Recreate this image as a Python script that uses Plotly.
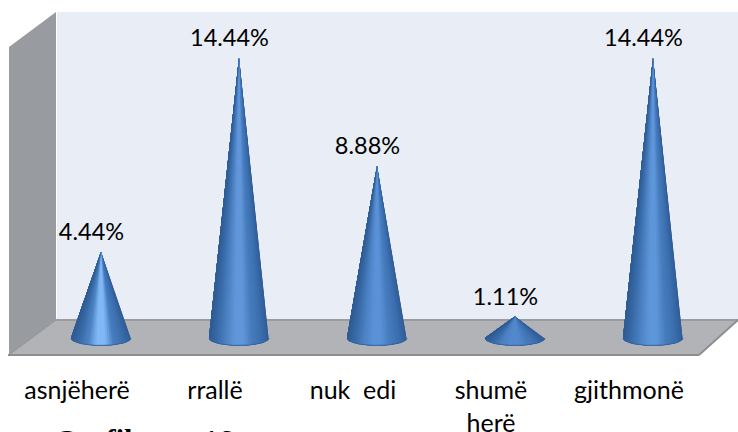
import plotly.graph_objects as go
import numpy as np

categories = ["asnjëherë", "rrallë", "nuk  edi", "shumë<br>herë", "gjithmonë"]
values = [4.44, 14.44, 8.88, 1.11, 14.44]
labels = ["4.44%", "14.44%", "8.88%", "1.11%", "14.44%"]
caption_word = "<b>Grafiku</b>"
caption_number = "<b>16</b>"

W, H = 738, 432
PLOT_BOTTOM = 356
X0, DX = 77.0, 138.0      # pixel of category 0, pixels per category
Y0, DY = 338.0, 19.4      # pixel of value 0, pixels per value
DEPTH = 24.0              # px, cones sit this far right of the tick
R, RY = 30.0, 7.5         # cone base half-width / half-height
LABEL_GAP = 6.0           # px, extra lift of data labels above the tips

def x_unit(px): return (px - X0) / DX
def y_unit(py): return (Y0 - py) / DY
def pts(items): return "M " + " L ".join(f"{x/W:.5f},{1-y/PLOT_BOTTOM:.5f}" for x, y in items) + " Z"

def mix(stops, u):
    n = len(stops) - 1
    k = min(int(u * n), n - 1)
    f = u * n - k
    a, b = stops[k], stops[k + 1]
    return "#%02x%02x%02x" % tuple(round(a[j] + (b[j] - a[j]) * f) for j in range(3))

hi = {0: (128, 184, 245), 1: (98, 150, 218), 2: (90, 145, 215), 3: (84, 136, 205), 4: (94, 150, 218)}
fig = go.Figure()
N = 40
for i, v in enumerate(values):
    cx = i + DEPTH / DX
    stops = [(48, 92, 150), (60, 112, 176), (70, 124, 190), hi[i], hi[i], (76, 130, 195), (58, 108, 170), (46, 90, 146)]
    for k in range(N):
        t0 = np.pi * k / N
        ts = np.linspace(t0, np.pi, 40)
        xs = list(cx + R * np.cos(ts) / DX)
        ys = list(-RY * np.sin(ts) / DY)
        u = 1 - (np.cos(t0 + np.pi / N / 2) + 1) / 2
        c = mix(stops, u)
        fig.add_trace(go.Scatter(x=[cx] + xs + [cx], y=[v] + ys + [v], mode="lines", fill="toself",
                                 fillcolor=c, line=dict(width=0), hoverinfo="skip", showlegend=False))
    ts = np.linspace(0, np.pi, 30)
    fig.add_trace(go.Scatter(x=cx + R * np.cos(ts) / DX, y=-RY * np.sin(ts) / DY, mode="lines",
                             line=dict(color="#35659f", width=1), hoverinfo="skip", showlegend=False))

fig.add_trace(go.Scatter(x=[i + (DEPTH - 9.5) / DX for i in range(len(values))],
                         y=[v + LABEL_GAP / DY for v in values], mode="text",
                         text=labels, textposition="top center", textfont=dict(family="Lato", size=23.5, color="#000000"),
                         hoverinfo="skip", showlegend=False))

shapes = [
    dict(type="path", xref="paper", yref="paper", path=pts([(57, 12), (738, 12), (738, 320), (57, 320)]),
         fillcolor="#e9edf6", line_width=0, layer="below"),
    dict(type="path", xref="paper", yref="paper", path=pts([(9, 47), (56, 12), (56, 320), (9, 355)]),
         fillcolor="#989b9f", line_width=0, layer="below"),
    dict(type="path", xref="paper", yref="paper", path=pts([(56, 320), (738, 320), (699, 355), (9, 355)]),
         fillcolor="#b1b3b7", line_width=0, layer="below"),
    dict(type="line", xref="paper", yref="paper", x0=56/W, x1=1, y0=1-320/PLOT_BOTTOM, y1=1-320/PLOT_BOTTOM,
         line=dict(color="#9a9c9f", width=2), layer="below"),
    dict(type="line", xref="paper", yref="paper", x0=9/W, x1=56/W, y0=1-355/PLOT_BOTTOM, y1=1-320/PLOT_BOTTOM,
         line=dict(color="#8f9194", width=1), layer="below"),
    dict(type="line", xref="paper", yref="paper", x0=8/W, x1=699/W, y0=1-355/PLOT_BOTTOM, y1=1-355/PLOT_BOTTOM,
         line=dict(color="#8c8e90", width=2), layer="below"),
    dict(type="line", xref="paper", yref="paper", x0=699/W, x1=738/W, y0=1-355/PLOT_BOTTOM, y1=1-320/PLOT_BOTTOM,
         line=dict(color="#8c8e90", width=2), layer="below"),
]

fig.update_layout(
    template="none",
    width=W, height=H, margin=dict(l=0, r=0, t=0, b=H - PLOT_BOTTOM, pad=0),
    paper_bgcolor="white", plot_bgcolor="white", showlegend=False, shapes=shapes,
    xaxis=dict(range=[x_unit(0), x_unit(W)], tickmode="array", tickvals=list(range(5)), ticktext=categories,
               showgrid=False, zeroline=False, showline=False, ticks="", ticklabelstandoff=17, automargin=False,
               tickangle=0, tickfont=dict(family="Lato", size=25, color="#000000"), fixedrange=True),
    yaxis=dict(range=[y_unit(PLOT_BOTTOM), y_unit(0)], visible=False, automargin=False, fixedrange=True),
    annotations=[
        dict(text=caption_word, xref="paper", yref="paper", x=52/W, y=1-440/PLOT_BOTTOM, xanchor="left", yanchor="middle",
             showarrow=False, font=dict(family="Liberation Serif", size=30, color="#000000")),
        dict(text=caption_number, xref="paper", yref="paper", x=201/W, y=1-440/PLOT_BOTTOM, xanchor="left", yanchor="middle",
             showarrow=False, font=dict(family="Liberation Serif", size=30, color="#000000")),
    ],
)
fig.write_html("out.html", config={"displayModeBar": False}, post_script="document.body.style.margin='0';document.body.style.overflow='hidden';")
